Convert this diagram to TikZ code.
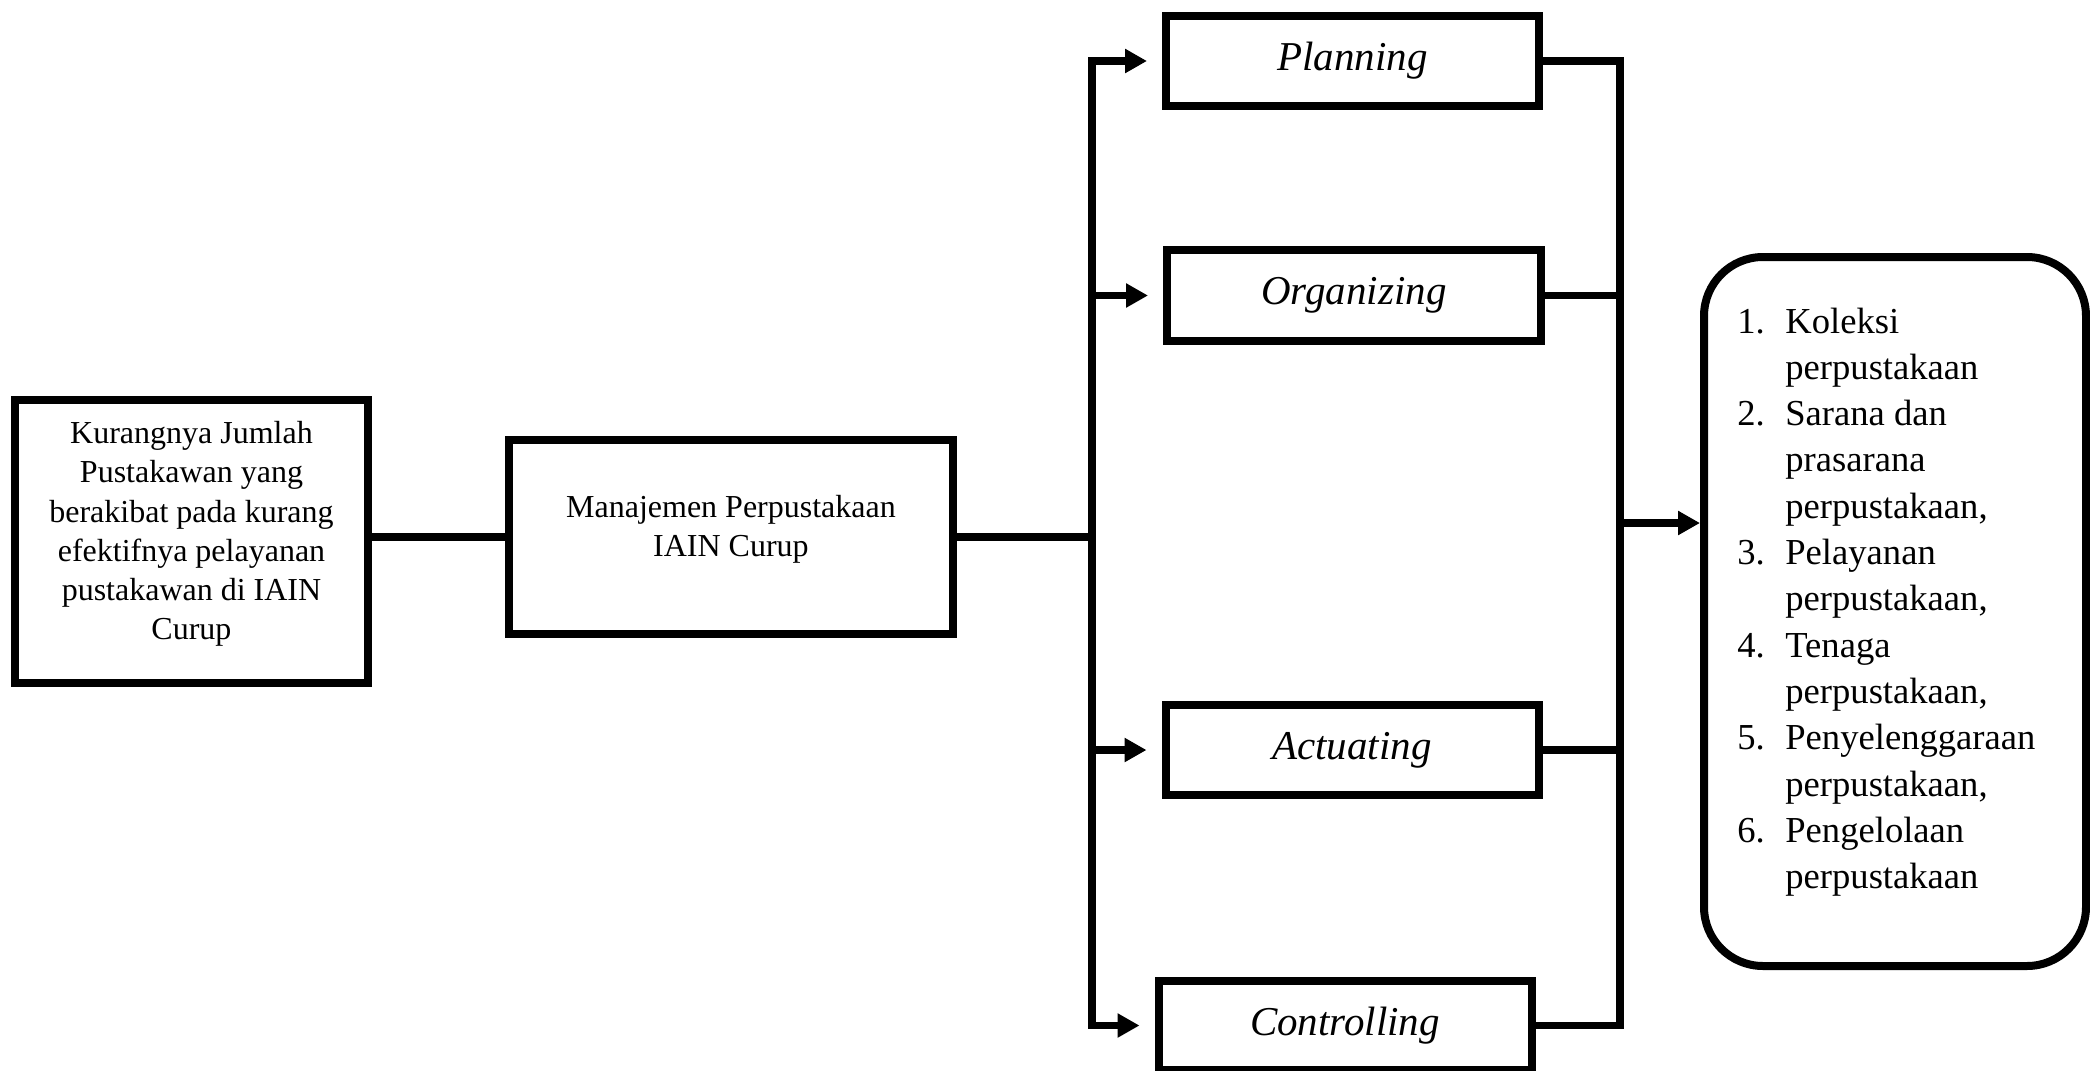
\documentclass[tikz,border=0pt]{standalone}
\usepackage{fontspec}
\setmainfont{Liberation Serif}
\usetikzlibrary{arrows.meta}
\begin{document}
\begin{tikzpicture}[x=0.5pt,y=-0.5pt,
  boxst/.style={draw, line width=4pt, inner sep=0pt, rectangle},
  lbl/.style={boxst, minimum width=186.5pt, minimum height=45pt, font=\fontsize{20.5pt}{24pt}\selectfont\itshape},
  txt/.style={inner sep=0pt, align=center, font=\fontsize{16pt}{19.6pt}\selectfont},
  conn/.style={line width=3.75pt},
  tip/.tip={Triangle[length=11pt,width=11.5pt]},
  arr/.style={conn, -tip, shorten >=7.5pt},
]
\useasboundingbox (0,0) rectangle (2090,1071);

% boxes
\node[boxst, minimum width=176.5pt, minimum height=141.5pt] (b1) at (191.5,541.5) {};
\node[txt] (b1t) at (191.5,534) {Kurangnya Jumlah\\Pustakawan yang\\berakibat pada kurang\\efektifnya pelayanan\\pustakawan di IAIN\\Curup};
\node[boxst, minimum width=222pt, minimum height=97pt] (b2) at (731,537) {};
\node[txt] (b2t) at (731,529) {Manajemen Perpustakaan\\IAIN Curup};

\node[lbl] (pl) at (1352.5,61) {Planning};
\node[lbl, minimum width=187pt, minimum height=45.5pt] (org) at (1354,295.5) {Organizing};
\node[lbl] (act) at (1352,750) {Actuating};
\node[lbl, minimum height=44.5pt] (ctl) at (1345,1025.5) {Controlling};

\node[boxst, rounded corners=29.5pt, minimum width=191pt, minimum height=354.5pt] (res) at (1895,611.5) {};
\node[inner sep=0pt, anchor=base west, font=\fontsize{18.3pt}{23.15pt}\selectfont] (list) at (1737,333) {%
\begin{tabular}[t]{@{}l@{}l@{}}
\makebox[24pt][l]{1.} & Koleksi\\
 & perpustakaan\\
\makebox[24pt][l]{2.} & Sarana dan\\
 & prasarana\\
 & perpustakaan,\\
\makebox[24pt][l]{3.} & Pelayanan\\
 & perpustakaan,\\
\makebox[24pt][l]{4.} & Tenaga\\
 & perpustakaan,\\
\makebox[24pt][l]{5.} & Penyelenggaraan\\
 & perpustakaan,\\
\makebox[24pt][l]{6.} & Pengelolaan\\
 & perpustakaan
\end{tabular}};

% bus coordinates
\coordinate (lbus) at (1092,0);
\coordinate (rbus) at (1620,0);
\coordinate (rj) at (1620,523);

% connectors
\draw[conn] (b1.east |- b2.west) -- (b2.west);
\draw[conn] (b2.east) -- (b2.east -| lbus);
\draw[conn, tip-tip, shorten <=7.5pt, shorten >=7.5pt] (pl.west) -- (pl.west -| lbus) -- (ctl.west -| lbus) -- (ctl.west);
\draw[arr] (org.west -| lbus) -- (org.west);
\draw[arr] (act.west -| lbus) -- (act.west);
\draw[conn] (pl.east) -- (pl.east -| rbus) -- (ctl.east -| rbus) -- (ctl.east);
\draw[conn] (org.east) -- (org.east -| rbus);
\draw[conn] (act.east) -- (act.east -| rbus);
\draw[conn, -tip] (rj) -- (rj -| res.west);
\end{tikzpicture}
\end{document}
